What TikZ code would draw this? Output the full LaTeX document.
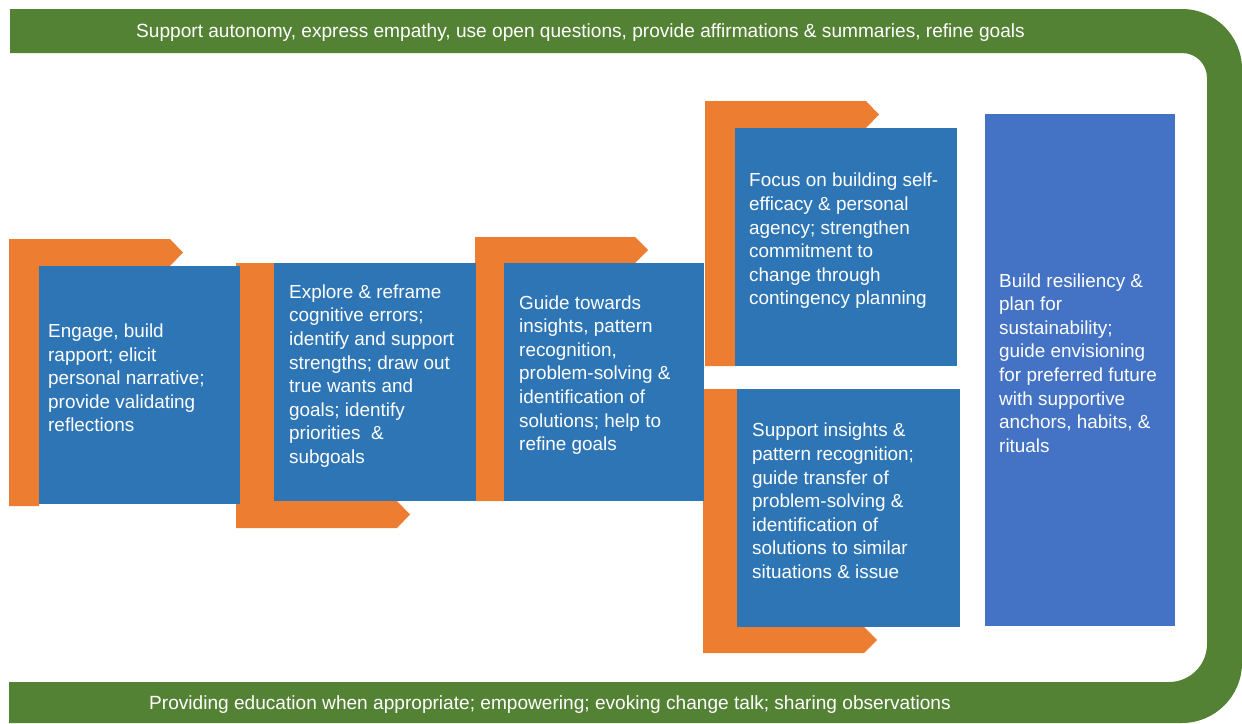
\documentclass[tikz,border=0pt]{standalone}
\usepackage{xcolor}
\usepackage{fontspec}
\setmainfont{Liberation Sans}
\usetikzlibrary{positioning, calc}
\definecolor{bandcolor}{RGB}{84,130,53}
\definecolor{bendcolor}{RGB}{237,125,49}
\definecolor{stagecolor}{RGB}{46,117,182}
\definecolor{goalcolor}{RGB}{68,114,196}

\begin{document}
\begin{tikzpicture}[
    x=1pt, y=-1pt,
    band/.style={fill=bandcolor},
    bendshape/.style={fill=bendcolor},
    stage/.style={fill=stagecolor, inner sep=0pt, minimum height=238},
    goal/.style={fill=goalcolor, inner sep=0pt},
    txt/.style={text=white, align=left, inner sep=0pt, font=\fontsize{18.9}{23.6}\selectfont},
    bandtxt/.style={text=white, inner sep=0pt, font=\fontsize{19.1}{23.6}\selectfont}
]
    \useasboundingbox (0,0) rectangle (1242,723);

    % Green band
    \fill[band] (10,9) -- (1182,9) .. controls (1215,9) and (1242,36) .. (1242,69)
        -- (1242,663) .. controls (1242,696) and (1215,723) .. (1182,723)
        -- (9,723) -- (9,682) -- (1169,682) .. controls (1190,682) and (1207,665) .. (1207,644)
        -- (1207,78) .. controls (1207,64) and (1196,53) .. (1182,53)
        -- (10,53) -- cycle;
    \node[bandtxt] (toptxt) at (580.5,33) {Support autonomy, express empathy, use open questions, provide affirmations \& summaries, refine goals};
    \node[bandtxt] (bottomtxt) at (550,705) {Providing education when appropriate; empowering; evoking change talk; sharing observations};

    % Orange bends
    \fill[bendshape] (9,239) -- (170,239) -- (183,252.5) -- (170,266) -- (39,266) -- (39,506) -- (9,506) -- cycle;
    \fill[bendshape] (236,263) -- (274,263) -- (274,501) -- (397,501) -- (410,514.5) -- (397,528) -- (236,528) -- cycle;
    \fill[bendshape] (475,237) -- (635,237) -- (648,250) -- (635,263) -- (504,263) -- (504,501) -- (475,501) -- cycle;
    \fill[bendshape] (705,101) -- (866,101) -- (879,114.5) -- (866,128) -- (735,128) -- (735,366) -- (705,366) -- cycle;
    \fill[bendshape] (703,389) -- (737,389) -- (737,627) -- (864,627) -- (877,640) -- (864,653) -- (703,653) -- cycle;

    % Stages
    \node[stage, minimum width=201] (engage) at (139.5,385) {};
    \node[stage, minimum width=202] (explore) at (375,382) {};
    \node[stage, minimum width=200] (guide) at (604,382) {};
    \node[stage, minimum width=222] (focus) at (846,247) {};
    \node[stage, minimum width=223] (support) at (848.5,508) {};
    \node[goal, minimum width=190, minimum height=512] (build) at (1080,370) {};

    % Texts
    \node[txt, anchor=west] (engagetxt) at (48,378) {Engage, build\\rapport; elicit\\personal narrative;\\provide validating\\reflections};
    \node[txt, anchor=west] (exploretxt) at (289,376) {Explore \& reframe\\cognitive errors;\\identify and support\\strengths; draw out\\true wants and\\goals; identify\\priorities~ \&\\subgoals};
    \node[txt, anchor=west] (guidetxt) at (519,375) {Guide towards\\insights, pattern\\recognition,\\problem-solving \&\\identification of\\solutions; help to\\refine goals};
    \node[txt, anchor=west] (focustxt) at (749,241) {Focus on building self-\\efficacy \& personal\\agency; strengthen\\commitment to\\change through\\contingency planning};
    \node[txt, anchor=west] (supporttxt) at (752,501) {Support insights \&\\pattern recognition;\\guide transfer of\\problem-solving \&\\identification of\\solutions to similar\\situations \& issue};
    \node[txt, anchor=west] (buildtxt) at (999,363) {Build resiliency \&\\plan for\\sustainability;\\guide envisioning\\for preferred future\\with supportive\\anchors, habits, \&\\rituals};
\end{tikzpicture}
\end{document}
